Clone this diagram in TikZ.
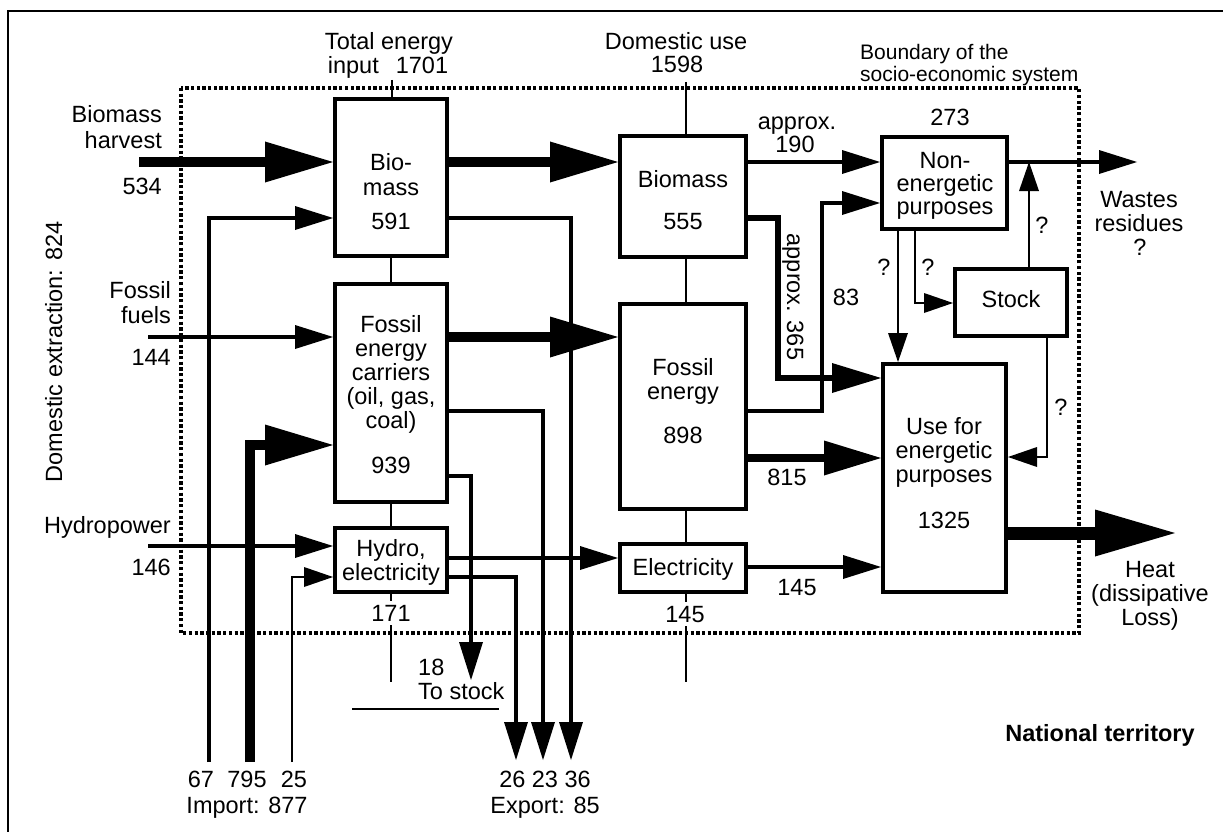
\documentclass[tikz,border=0pt]{standalone}
\usepackage{fontspec}
\setmainfont{Liberation Sans}
\usetikzlibrary{arrows.meta}
\newcommand\dfont{\fontsize{23.5}{24}\selectfont}
\newcommand\bfont{\fontsize{21}{22}\selectfont}
\begin{document}
\begin{tikzpicture}[x=1pt,y=-1pt,
  every node/.style={inner sep=0pt, font=\dfont},
  box/.style={draw, line width=4pt, fill=white, rectangle},
  lab/.style={anchor=base},
  hair/.style={line width=1.2pt},
  frame/.style={line width=2.3pt},
  bound/.style={line width=3.3pt, dash pattern=on 3.3pt off 2.4pt},
  fbig/.style={line width=10pt, -{Triangle[length=68pt,width=41pt,line width=0pt]}},
  fheat/.style={line width=13pt, -{Triangle[length=80pt,width=47pt,line width=0pt]}},
  f815/.style={line width=8pt, -{Triangle[length=57pt,width=35pt,line width=0pt]}},
  f365/.style={line width=6pt, -{Triangle[length=49pt,width=30pt,line width=0pt]}},
  fmed/.style={line width=3.8pt, -{Triangle[length=38pt,width=24pt,line width=0pt]}},
  fsmall/.style={line width=1.3pt, -{Triangle[length=29pt,width=20pt,line width=0pt]}}
]
\useasboundingbox (0,0) rectangle (1223,832);

% outer frame and system boundary
\coordinate (fr1) at (8,832);
\coordinate (fr2) at (8,11);
\coordinate (fr3) at (1223,11);
\draw[frame] (fr1) -- (fr2) -- (fr3);
\draw[bound] (181,88) rectangle (1079,633);

% boxes
\node[box, minimum width=112pt, minimum height=157pt] (bio) at (391,177.5) {};
\node[box, minimum width=112pt, minimum height=218pt] (fos) at (391,393) {};
\node[box, minimum width=112pt, minimum height=64pt] (hyd) at (391,560) {};
\node[box, minimum width=126pt, minimum height=121pt] (mbio) at (683,196.5) {};
\node[box, minimum width=126pt, minimum height=205pt] (mfos) at (683,406.5) {};
\node[box, minimum width=126pt, minimum height=48pt] (elec) at (683,568) {};
\node[box, minimum width=125pt, minimum height=92pt] (non) at (944.5,183) {};
\node[box, minimum width=123pt, minimum height=228pt] (use) at (944.5,478) {};
\node[box, minimum width=112pt, minimum height=67pt] (stock) at (1011,302.5) {};

% box texts
\node[lab] (bioa) at (391,171) {Bio-};
\node[lab] (biob) at (391,195) {mass};
\node[lab] (bioc) at (391,229) {591};
\node[lab] (fosa) at (391,332) {Fossil};
\node[lab] (fosb) at (391,356) {energy};
\node[lab] (fosc) at (391,380) {carriers};
\node[lab] (fosd) at (391,404) {(oil, gas,};
\node[lab] (fose) at (391,428) {coal)};
\node[lab] (fosf) at (391,473) {939};
\node[lab] (hyda) at (391,556) {Hydro,};
\node[lab] (hydb) at (391,580) {electricity};
\node[lab] (n171) at (391,621) {171};
\node[lab] (mbioa) at (683,187) {Biomass};
\node[lab] (mbiob) at (683,229) {555};
\node[lab] (mfosa) at (683,375) {Fossil};
\node[lab] (mfosb) at (683,399) {energy};
\node[lab] (mfosc) at (683,443) {898};
\node[lab] (eleca) at (683,575) {Electricity};
\node[lab] (n145b) at (685,622) {145};
\node[lab] (nona) at (945,168) {Non-};
\node[lab] (nonb) at (945,191) {energetic};
\node[lab] (nonc) at (945,214) {purposes};
\node[lab] (n273) at (950,125) {273};
\node[lab] (stocka) at (1011,307) {Stock};
\node[lab] (usea) at (944,434) {Use for};
\node[lab] (useb) at (944,458) {energetic};
\node[lab] (usec) at (944,482) {purposes};
\node[lab] (used) at (944,528) {1325};

% top labels
\node[lab] (tte1) at (389,50) {Total energy};
\node[lab] (tte2) at (388,74) {input\hspace{17pt}1701};
\node[lab] (dua) at (676,50) {Domestic use};
\node[lab] (dub) at (677,73) {1598};
\node[lab, anchor=base west, font=\bfont] (bda) at (860,60) {Boundary of the};
\node[lab, anchor=base west, font=\bfont] (bdb) at (860,82) {socio-economic system};

% left labels
\node[lab, anchor=base east] (bha) at (162,123) {Biomass};
\node[lab, anchor=base east] (bhb) at (162,149) {harvest};
\node[lab, anchor=base east] (bhc) at (162,194) {534};
\node[lab, anchor=base east] (ffa) at (171,298) {Fossil};
\node[lab, anchor=base east] (ffb) at (171,323) {fuels};
\node[lab, anchor=base east] (ffc) at (171,365) {144};
\node[lab, anchor=base east] (hpa) at (171,533) {Hydropower};
\node[lab, anchor=base east] (hpb) at (171,575) {146};
\node[lab, rotate=90] (dex) at (62,352) {Domestic extraction: 824};

% flow labels
\node[lab] (apa) at (797,129) {approx.};
\node[lab] (apb) at (795,153) {190};
\node[lab, rotate=-90] (ap365) at (787,297) {approx. 365};
\node[lab] (n83) at (846,305) {83};
\node[lab] (n815) at (787,485) {815};
\node[lab] (n145a) at (797,595) {145};
\node[lab] (qa) at (884,275) {?};
\node[lab] (qb) at (928,275) {?};
\node[lab] (qc) at (1042,233) {?};
\node[lab] (qd) at (1061,415) {?};
\node[lab] (wsa) at (1139,207) {Wastes};
\node[lab] (wsb) at (1139,231) {residues};
\node[lab] (wsc) at (1140,255) {?};
\node[lab] (hta) at (1150,577) {Heat};
\node[lab] (htb) at (1150,601) {(dissipative};
\node[lab] (htc) at (1150,625) {Loss)};
\node[lab, font=\dfont\bfseries] (nat) at (1100,741) {National territory};
\node[lab, anchor=base west] (tsa) at (418,675) {18};
\node[lab, anchor=base west] (tsb) at (418,699) {To stock};
\node[lab] (im67) at (201,787) {67};
\node[lab] (im795) at (247,787) {795};
\node[lab] (im25) at (294,787) {25};
\node[lab] (imp) at (247,813) {Import: 877};
\node[lab] (exn) at (545,787) {26 23 36};
\node[lab] (exp) at (545,813) {Export: 85};

% coordinates
\coordinate (sBH) at (139,162);
\coordinate (sI67) at (209,762);
\coordinate (sFF) at (148,337);
\coordinate (sI795) at (250,762);
\coordinate (sHP) at (148,546);
\coordinate (sI25) at (292,762);
\coordinate (e36) at (571,760);
\coordinate (e23) at (543,760);
\coordinate (e26) at (516,760);
\coordinate (tS) at (471,680);
\coordinate (c365) at (778,378);
\coordinate (c83) at (822,203);
\coordinate (wT) at (1137,162);
\coordinate (wJ) at (1029,162);
\coordinate (hT) at (1175,533);
\coordinate (tei) at (392,80);
\coordinate (lb1) at (391,682);
\coordinate (du) at (686,82);
\coordinate (lb2) at (686,682);
\coordinate (ul1) at (352,709);
\coordinate (ul2) at (499,709);

% thin connecting lines
\draw[hair] (tei) -- (tei |- bio.north);
\draw[hair] (bio.south) -- (fos.north);
\draw[hair] (fos.south) -- (hyd.north);
\draw[hair, shorten >=4pt] (hyd.south) -- (n171.north);
\draw[hair, shorten <=4pt] (n171.south) -- (lb1);
\draw[hair] (du) -- (du |- mbio.north);
\draw[hair] (mbio.south -| du) -- (mfos.north -| du);
\draw[hair] (mfos.south -| du) -- (elec.north -| du);
\draw[hair, shorten >=4pt] (elec.south -| du) -- (du |- n145b.north);
\draw[hair, shorten <=4pt] (du |- n145b.south) -- (lb2);
\draw[hair] (ul1) -- (ul2);

% flows
\draw[fbig] (sBH) -- (sBH -| bio.west);
\draw[fmed] (sI67) |- (bio.west |- 0,218);
\draw[fmed] (sFF) -- (sFF -| fos.west);
\draw[fbig] (sI795) |- (fos.west |- 0,445);
\draw[fmed] (sHP) -- (sHP -| hyd.west);
\draw[fsmall] (sI25) |- (hyd.west |- 0,577);
\draw[fbig] (bio.east |- 0,162) -- (mbio.west |- 0,162);
\draw[fmed] (bio.east |- 0,218) -| (e36);
\draw[fbig] (fos.east |- 0,337) -- (mfos.west |- 0,337);
\draw[fmed] (fos.east |- 0,411) -| (e23);
\draw[fmed] (fos.east |- 0,476) -| (tS);
\draw[fmed] (hyd.east |- 0,558) -- (elec.west |- 0,558);
\draw[fmed] (hyd.east |- 0,577) -| (e26);
\draw[fmed] (mbio.east |- 0,162) -- (non.west |- 0,162);
\draw[f365] (mbio.east |- 0,218) -| (c365) -- (c365 -| use.west);
\draw[fmed] (mfos.east |- 0,411) -| (c83) -- (c83 -| non.west);
\draw[f815] (mfos.east |- 0,458) -- (use.west |- 0,458);
\draw[fmed] (elec.east |- 0,567) -- (use.west |- 0,567);
\draw[fmed] (non.east |- 0,162) -- (wT);
\draw[fsmall] (stock.north -| wJ) -- (wJ);
\draw[fsmall] (non.south -| 898,0) -- (use.north -| 898,0);
\draw[fsmall] (non.south -| 915,0) |- (stock.west |- 0,303);
\draw[fsmall] (stock.south -| 1047,0) |- (use.east |- 0,457);
\draw[fheat] (use.east |- 0,533) -- (hT);
\end{tikzpicture}
\end{document}
